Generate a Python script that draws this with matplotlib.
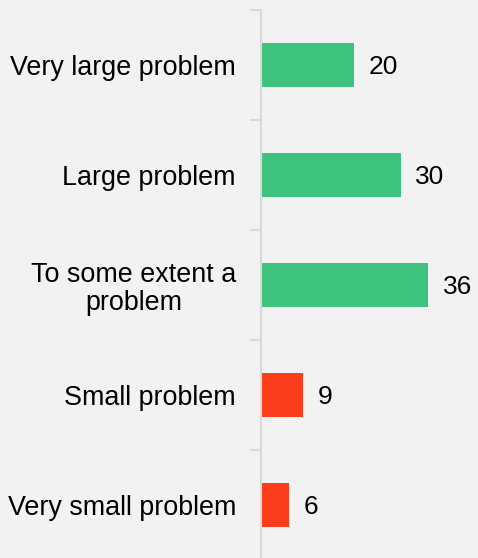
import matplotlib
matplotlib.use("Agg")
import matplotlib.pyplot as plt
import numpy as np

categories = ["Very large problem", "Large problem", "To some extent a\nproblem",
              "Small problem", "Very small problem"]
values = [20, 30, 36, 9, 6]
colors = ["#3EC37E", "#3EC37E", "#3EC37E", "#FC3D1C", "#FC3D1C"]

plt.rcParams['font.family'] = ['Liberation Sans', 'DejaVu Sans']

fig = plt.figure(figsize=(4.78, 5.58), dpi=100)
fig.patch.set_facecolor("#F2F2F2")
ax = fig.add_axes([261/478, -2/558, 1 - 261/478, 550/558])
ax.set_facecolor("#F2F2F2")

y = np.arange(len(categories))
ax.barh(y, values, height=0.4, color=colors)
ax.set_ylim(len(categories) - 0.5, -0.5)
ax.set_xlim(0, 217/4.65)

for yi, v in zip(y, values):
    ax.text(v + 3.2, yi, str(v), va="center_baseline", ha="left", fontsize=19, color="#000000")

ax.set_yticks(y)
ax.set_yticklabels(categories, fontsize=19.4)
ax.tick_params(axis="y", which="major", length=0, pad=18)
ax.set_yticks(np.arange(-0.5, len(categories) + 0.5, 1), minor=True)
ax.tick_params(axis="y", which="minor", length=8, width=1.5, color="#D9D9D9")
for lbl in ax.get_yticklabels():
    lbl.set_ha("right")
    lbl.set_multialignment("center")
    lbl.set_linespacing(1.1)

ax.set_xticks([])
for s in ["top", "right", "bottom"]:
    ax.spines[s].set_visible(False)
ax.spines["left"].set_color("#D9D9D9")
ax.spines["left"].set_linewidth(1.5)

fig.savefig("out.png", dpi=100, facecolor=fig.get_facecolor())
